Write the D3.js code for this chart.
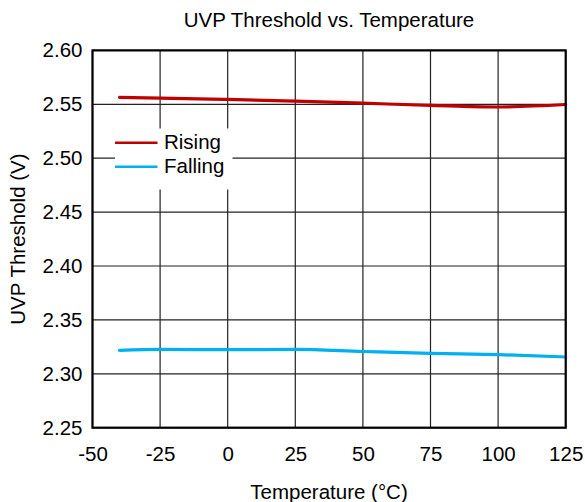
<!DOCTYPE html>
<html><head><meta charset="utf-8">
<script src="https://cdn.jsdelivr.net/npm/d3@7"></script>
<style>body{margin:0;background:#fff;} text{font-family:"Liberation Sans",Arial,sans-serif;}</style>
</head><body><svg id="c" width="585" height="502"></svg>
<script>
const temps = [-40, -25, 0, 25, 50, 75, 100, 125];
const rising = [2.5565, 2.5558, 2.5545, 2.5530, 2.5510, 2.5490, 2.5475, 2.5498];
const falling = [2.3218, 2.3226, 2.3224, 2.3226, 2.3207, 2.3190, 2.3178, 2.3156];
const xTicks = [-50, -25, 0, 25, 50, 75, 100, 125];
const yTicks = [2.25, 2.30, 2.35, 2.40, 2.45, 2.50, 2.55, 2.60];
const seriesNames = ["Rising", "Falling"];
const colors = ["#c00000", "#00b0f0"];

const FS = 20.5;
const svg = d3.select("#c");
const L = 92.5, R = 565.7, T = 50.4, B = 427.7;
const x = d3.scaleLinear().domain([-50, 125]).range([L, R]);
const y = d3.scaleLinear().domain([2.25, 2.60]).range([B, T]);

// grid
svg.append("g").selectAll("line").data(xTicks).join("line")
  .attr("x1", d => x(d)).attr("x2", d => x(d)).attr("y1", T).attr("y2", B)
  .attr("stroke", "#222").attr("stroke-width", 1.2);
svg.append("g").selectAll("line").data(yTicks).join("line")
  .attr("y1", d => y(d)).attr("y2", d => y(d)).attr("x1", L).attr("x2", R)
  .attr("stroke", "#222").attr("stroke-width", 1.2);

// legend background
svg.append("rect").attr("x", 115).attr("y", 128.5).attr("width", 117.5).attr("height", 61).attr("fill", "#fff");

// lines
const line = d3.line().x((d, i) => x(temps[i])).y(d => y(d)).curve(d3.curveMonotoneX);
[rising, falling].forEach((s, i) => {
  svg.append("path").attr("d", line(s)).attr("fill", "none")
    .attr("stroke", colors[i]).attr("stroke-width", 3.2).attr("stroke-linecap", "round");
});

// frame
svg.append("rect").attr("x", L).attr("y", T).attr("width", R - L).attr("height", B - T)
  .attr("fill", "none").attr("stroke", "#000").attr("stroke-width", 2.2);

// axes labels
const xAxis = d3.axisBottom(x).tickValues(xTicks).tickSize(0).tickPadding(19).tickFormat(d => String(d));
const gx = svg.append("g").attr("transform", `translate(0,${B})`).call(xAxis);
gx.select(".domain").remove();
gx.selectAll("text").attr("font-size", FS).attr("fill", "#000").style("font-family", "'Liberation Sans',Arial,sans-serif");

const yAxis = d3.axisLeft(y).tickValues(yTicks).tickSize(0).tickPadding(10).tickFormat(d3.format(".2f"));
const gy = svg.append("g").attr("transform", `translate(${L},0)`).call(yAxis);
gy.select(".domain").remove();
gy.selectAll("text").attr("font-size", FS).attr("fill", "#000").style("font-family", "'Liberation Sans',Arial,sans-serif");

// titles
svg.append("text").attr("x", 329).attr("y", 27).attr("text-anchor", "middle").attr("font-size", FS).text("UVP Threshold vs. Temperature");
svg.append("text").attr("x", 329).attr("y", 499).attr("text-anchor", "middle").attr("font-size", FS).text("Temperature (°C)");
svg.append("text").attr("transform", `translate(25,${(T + B) / 2}) rotate(-90)`).attr("text-anchor", "middle").attr("font-size", FS).text("UVP Threshold (V)");

// legend
const lg = svg.append("g");
seriesNames.forEach((n, i) => {
  const ly = 142.7 + i * 24;
  lg.append("line").attr("x1", 115).attr("x2", 157.5).attr("y1", ly).attr("y2", ly)
    .attr("stroke", colors[i]).attr("stroke-width", 2.6);
  lg.append("text").attr("x", 164).attr("y", ly + 6).attr("font-size", FS).text(n);
});
</script></body></html>
